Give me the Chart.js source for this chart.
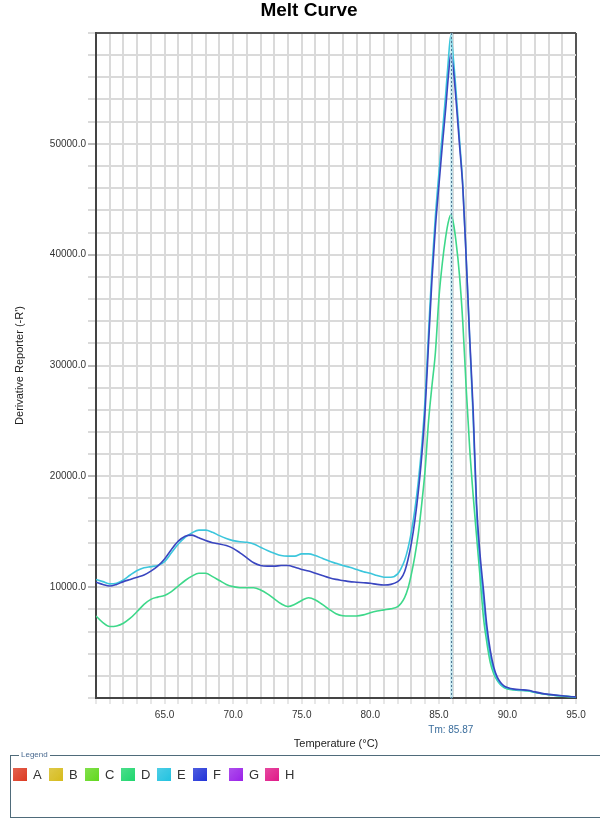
<!DOCTYPE html>
<html>
<head>
<meta charset="utf-8">
<script src="https://cdn.jsdelivr.net/npm/chart.js@4.4.1/dist/chart.umd.min.js"></script>
<style>
  html, body { margin: 0; padding: 0; background: #fff; }
  #wrap { position: relative; width: 600px; height: 825px; overflow: hidden; }
  #melt { position: absolute; left: 0; top: 0; }
  #legend {
    position: absolute; left: 10px; top: 755px; width: 620px; height: 63px;
    border: 1px solid #4f6b7a; box-sizing: border-box;
    font-family: 'Liberation Sans', Arial, sans-serif;
  }
  #legend .cap {
    position: absolute; left: 8px; top: -6px; padding: 0 2px; background: #fff;
    font-size: 8px; color: #4a6a90; line-height: 10px;
  }
  #legend .items { position: absolute; left: 2px; top: 11px; display: flex; }
  #legend .item { width: 36px; display: flex; align-items: center; font-size: 13px; color: #333; }
  #legend .sw { width: 14px; height: 13px; margin-right: 6px; }
</style>
</head>
<body>
<div id="wrap">
  <canvas id="melt" width="600" height="760"></canvas>
  <div id="legend"><span class="cap">Legend</span><div class="items"></div></div>
</div>
<script>
// temperatures (°C) shared by all wells
const temps = [
  60, 60.5, 61, 61.5, 62, 62.5, 63, 63.5, 64, 64.5,
  65, 65.5, 66, 66.5, 67, 67.5, 68, 68.5, 69, 69.5,
  70, 70.5, 71, 71.5, 72, 72.5, 73, 73.5, 74, 74.5,
  75, 75.5, 76, 76.5, 77, 77.5, 78, 78.5, 79, 79.5,
  80, 80.5, 81, 81.5, 82,
  82.25, 82.5, 82.75, 83, 83.25, 83.5, 83.75, 84, 84.25, 84.5, 84.75,
  85, 85.25, 85.5, 85.7, 85.87, 86.05, 86.25, 86.5, 86.75,
  87, 87.25, 87.5, 87.75, 88, 88.25, 88.5, 88.75, 89, 89.25, 89.5, 89.75, 90,
  90.5, 91, 91.5, 92, 92.5, 93, 93.5, 94, 94.5, 95
];

// derivative reporter (-R') per well
const wellD = [
  7400, 6800, 6450, 6500, 6750, 7200, 7800, 8450, 8900, 9100,
  9250, 9600, 10100, 10600, 11000, 11250, 11250, 10950, 10600, 10250,
  10050, 9950, 9950, 9950, 9750, 9400, 8950, 8500, 8250, 8450,
  8800, 9050, 8850, 8450, 8000, 7600, 7420, 7400, 7400, 7500,
  7700, 7850, 7950, 8050, 8250,
  8550, 9050, 9900, 11200, 12800, 14800, 17500, 20600, 25000, 28200, 31200,
  36000, 39200, 41600, 43000, 43600, 42900, 41200, 38200, 33800,
  27800, 22500, 18300, 14600, 11000, 7300, 5000, 3200, 2200, 1600, 1200, 950, 820,
  720, 680, 640, 500, 390, 300, 230, 170, 120, 80
];
const wellE = [
  10700, 10500, 10300, 10350, 10650, 11100, 11500, 11750, 11850, 11950,
  12300, 13100, 13900, 14500, 14900, 15150, 15150, 14950, 14650, 14400,
  14200, 14100, 14050, 13900, 13600, 13300, 13050, 12850, 12800, 12800,
  13000, 13000, 12850, 12600, 12350, 12150, 11950, 11800, 11600, 11400,
  11250, 11050, 10900, 10900, 11200,
  11700, 12400, 13500, 15000, 17000, 19500, 22700, 27000, 33000, 38800, 43500,
  47300, 50900, 54500, 57700, 59800, 57800, 54800, 50500, 46200,
  39500, 32200, 25300, 16800, 12200, 8900, 5800, 3800, 2500, 1700, 1250, 1000, 880,
  750, 700, 650, 520, 400, 310, 240, 180, 130, 90
];
const wellF = [
  10450, 10250, 10100, 10250, 10500, 10700, 10900, 11100, 11450, 11900,
  12550, 13400, 14150, 14600, 14700, 14450, 14200, 14000, 13900, 13750,
  13500, 13100, 12650, 12200, 11950, 11900, 11900, 11950, 11950, 11800,
  11600, 11450, 11250, 11050, 10850, 10700, 10600, 10500, 10450, 10400,
  10350, 10250, 10200, 10250, 10500,
  10800, 11400, 12500, 14000, 16000, 18600, 21800, 26000, 32000, 37800, 42500,
  46200, 49800, 53200, 56200, 58100, 56800, 54000, 50000, 46000,
  39500, 32500, 26000, 17500, 13000, 9800, 6500, 4300, 2800, 1900, 1400, 1100, 950,
  800, 750, 700, 550, 420, 330, 260, 200, 140, 100
];

const xTickLabels = [65, 70, 75, 80, 85, 90, 95];
const yTickLabels = [10000, 20000, 30000, 40000, 50000];
const tmValue = 85.87;

const legendNames = ['A', 'B', 'C', 'D', 'E', 'F', 'G', 'H'];
const legendColors = ['#dc3a22', '#d6bb1c', '#62d81f', '#1fd66e', '#22c2e0', '#2234d8', '#9a22e8', '#e01a88'];

// legend box
const items = document.querySelector('#legend .items');
legendNames.forEach((n, i) => {
  const d = document.createElement('div');
  d.className = 'item';
  d.innerHTML = '<span class="sw" style="background:linear-gradient(135deg,' + legendColors[i] + 'cc,' + legendColors[i] + ')"></span>' + n;
  items.appendChild(d);
});

const pts = arr => temps.map((t, i) => ({ x: t, y: arr[i] }));
const FONT = "'Liberation Sans', Arial, sans-serif";
Chart.defaults.font.family = FONT;

const tmMarker = {
  id: 'tmMarker',
  afterDatasetsDraw(chart) {
    const { ctx, chartArea, scales } = chart;
    const x = Math.round(scales.x.getPixelForValue(tmValue)) + 0.5;
    ctx.save();
    ctx.strokeStyle = 'rgba(175,225,235,0.6)';
    ctx.lineWidth = 3;
    ctx.beginPath(); ctx.moveTo(x, chartArea.top); ctx.lineTo(x, chartArea.bottom); ctx.stroke();
    ctx.strokeStyle = '#4f7795';
    ctx.lineWidth = 1;
    ctx.setLineDash([2, 2]);
    ctx.beginPath(); ctx.moveTo(x, chartArea.top); ctx.lineTo(x, chartArea.bottom + 2); ctx.stroke();
    ctx.restore();
  },
  afterDraw(chart) {
    const { ctx, scales } = chart;
    ctx.save();
    ctx.fillStyle = '#3a6d9c';
    ctx.font = '10px ' + FONT;
    ctx.textAlign = 'center';
    ctx.textBaseline = 'middle';
    ctx.fillText('Tm: ' + tmValue.toFixed(2), scales.x.getPixelForValue(tmValue), 730);
    ctx.fillStyle = '#000';
    ctx.font = 'bold 19px ' + FONT;
    ctx.fillText('Melt Curve', 309, 11);
    ctx.restore();
  }
};

new Chart(document.getElementById('melt'), {
  type: 'line',
  data: {
    datasets: [
      { label: 'F', data: pts(wellF), borderColor: '#3a46c0' },
      { label: 'E', data: pts(wellE), borderColor: '#3cc6dc' },
      { label: 'D', data: pts(wellD), borderColor: '#3ed88a' }
    ]
  },
  options: {
    responsive: false,
    animation: false,
    datasets: {
      line: { pointRadius: 0, borderWidth: 1.6, cubicInterpolationMode: 'monotone', fill: false }
    },
    layout: { padding: { top: 33, right: 24, bottom: 9, left: 0 } },
    plugins: { legend: { display: false }, tooltip: { enabled: false } },
    scales: {
      x: {
        type: 'linear', min: 60, max: 95,
        afterFit: s => { s.height = 53; },
        ticks: {
          stepSize: 1, autoSkip: false, maxRotation: 0, padding: 5,
          color: '#333', font: { size: 10 },
          callback: v => xTickLabels.includes(v) ? v.toFixed(1) : ''
        },
        grid: {
          color: c => c.tick && c.tick.value === 95 ? '#555' : '#dadada',
          lineWidth: 2, tickLength: 6, tickWidth: 1, tickColor: '#cfcfcf'
        },
        border: { color: '#444', width: 2 },
        title: {
          display: true, text: 'Temperature (°C)', color: '#222',
          font: { size: 11 }, padding: { top: 0, bottom: 0 }
        }
      },
      y: {
        min: 0, max: 60000,
        afterFit: s => { s.width = 96; },
        ticks: {
          stepSize: 2000, autoSkip: false, padding: 2,
          color: '#333', font: { size: 10 },
          callback: v => yTickLabels.includes(v) ? v.toFixed(1) : ''
        },
        grid: {
          color: c => c.tick && c.tick.value === 60000 ? '#555' : '#dadada',
          lineWidth: 2, tickLength: 8, tickWidth: 1,
          tickColor: c => c.tick && yTickLabels.includes(c.tick.value) ? '#777' : '#b5b5b5'
        },
        border: { color: '#444', width: 2 },
        title: {
          display: true, text: "Derivative Reporter (-R')", color: '#222',
          font: { size: 11 }, padding: { top: 13, bottom: 0 }
        }
      }
    }
  },
  plugins: [tmMarker]
});
</script>
</body>
</html>
